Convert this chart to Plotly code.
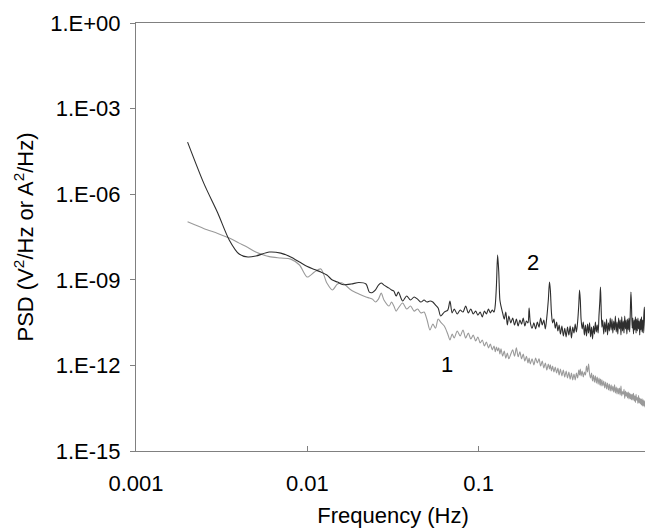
import math
import plotly.graph_objects as go

# Frequency grid (Hz), shared by both spectra
freq = [
    0.002, 0.0025, 0.003, 0.0035, 0.004, 0.0045, 0.005, 0.006, 0.007, 0.008,
    0.009, 0.010, 0.011, 0.012, 0.013, 0.014, 0.015, 0.016, 0.018, 0.020,
    0.022, 0.023, 0.024, 0.025, 0.026, 0.027, 0.028, 0.030, 0.031, 0.032,
    0.033, 0.034, 0.036, 0.038, 0.040, 0.042, 0.044, 0.046, 0.048, 0.050,
    0.052, 0.054, 0.056, 0.058, 0.060, 0.063, 0.066, 0.068, 0.070, 0.072,
    0.075, 0.078, 0.081, 0.084, 0.087, 0.090, 0.093, 0.096, 0.099, 0.102,
    0.105, 0.108, 0.111, 0.114, 0.117, 0.120, 0.123, 0.125, 0.127, 0.129,
    0.131, 0.133, 0.135, 0.138, 0.141, 0.144, 0.147, 0.150, 0.154, 0.158,
    0.162, 0.166, 0.170, 0.174, 0.178, 0.182, 0.186, 0.190, 0.194, 0.197,
    0.200, 0.205, 0.210, 0.215, 0.220, 0.225, 0.230, 0.235, 0.240, 0.245,
    0.250, 0.255, 0.259, 0.262, 0.266, 0.270, 0.275, 0.280, 0.285, 0.290,
    0.295, 0.300, 0.306, 0.312, 0.318, 0.324, 0.330, 0.336, 0.342, 0.348,
    0.354, 0.360, 0.366, 0.372, 0.378, 0.384, 0.388, 0.392, 0.396, 0.402,
    0.408, 0.414, 0.420, 0.426, 0.432, 0.438, 0.444, 0.450, 0.456, 0.462,
    0.468, 0.474, 0.480, 0.486, 0.492, 0.498, 0.504, 0.510, 0.514, 0.518,
    0.524, 0.530, 0.537, 0.544, 0.551, 0.558, 0.565, 0.572, 0.579, 0.586,
    0.593, 0.600, 0.607, 0.614, 0.621, 0.628, 0.635, 0.642, 0.649, 0.656,
    0.663, 0.670, 0.677, 0.684, 0.691, 0.698, 0.705, 0.712, 0.719, 0.726,
    0.733, 0.740, 0.747, 0.754, 0.761, 0.768, 0.774, 0.780, 0.787, 0.794,
    0.801, 0.808, 0.815, 0.822, 0.829, 0.836, 0.843, 0.850, 0.857, 0.864,
    0.871, 0.878, 0.885, 0.892, 0.899, 0.906, 0.913, 0.920, 0.927, 0.934,
    0.941, 0.948, 0.955, 0.962, 0.969, 0.976, 0.983, 0.990, 0.997,
]

# Curve 2 (dark)
psd_2 = [
    6.7e-5, 2.25e-6, 2.2e-7, 2.5e-8, 8.0e-9, 6.3e-9, 6.8e-9, 9.4e-9, 8.6e-9, 6.3e-9,
    4.2e-9, 2.9e-9, 2.3e-9, 1.87e-9, 1.47e-9, 9.8e-10, 8.3e-10, 6.8e-10, 7.1e-10, 8.0e-10,
    7.1e-10, 3.7e-10, 3.6e-10, 4.4e-10, 6.5e-10, 7.7e-10, 6.5e-10, 5.1e-10, 4.4e-10, 4.0e-10,
    2.7e-10, 3.7e-10, 1.8e-10, 2.7e-10, 1.95e-10, 2.5e-10, 2.1e-10, 1.66e-10, 1.95e-10, 1.66e-10,
    1.8e-10, 1.66e-10, 1.3e-10, 1.03e-10, 5.4e-11, 7.4e-11, 8.7e-11, 1.8e-10, 6.9e-11, 9.5e-11,
    6.3e-11, 8.7e-11, 7.4e-11, 1.2e-10, 6.9e-11, 9.5e-11, 6.3e-11, 8.0e-11, 5.8e-11, 7.4e-11,
    5.0e-11, 8.0e-11, 6.3e-11, 9.5e-11, 6.9e-11, 8.7e-11, 7.4e-11, 1.3e-10, 6.5e-10, 7.3e-9,
    1.87e-9, 1.95e-10, 1.2e-10, 6.9e-11, 4.2e-11, 7.4e-11, 2.6e-11, 5.4e-11, 3.1e-11, 4.6e-11,
    2.6e-11, 4.2e-11, 2.4e-11, 3.9e-11, 2.8e-11, 4.6e-11, 2.4e-11, 3.6e-11, 3.1e-11, 1.03e-10,
    3.3e-11, 2.0e-11, 3.1e-11, 1.9e-11, 3.3e-11, 2.2e-11, 4.6e-11, 2.6e-11, 3.9e-11, 1.9e-11,
    5.0e-11, 1.95e-10, 8.3e-10, 4.4e-10, 6.9e-11, 3.1e-11, 4.2e-11, 2.0e-11, 3.3e-11, 1.6e-11,
    2.6e-11, 1.26e-11, 2.4e-11, 1.07e-11, 2.0e-11, 9.9e-12, 2.2e-11, 1.16e-11, 2.4e-11, 9.1e-12,
    2.2e-11, 1.36e-11, 2.8e-11, 1.48e-11, 3.3e-11, 1.3e-10, 4.4e-10, 1.95e-10, 4.2e-11, 1.9e-11,
    3.3e-11, 1.16e-11, 2.6e-11, 1.07e-11, 2.8e-11, 1.36e-11, 3.1e-11, 9.9e-12, 2.2e-11, 8.4e-12,
    2.4e-11, 1.26e-11, 3.3e-11, 1.48e-11, 2.6e-11, 1.36e-11, 5.8e-11, 1.95e-10, 5.6e-10, 1.3e-10,
    2.2e-11, 3.9e-11, 1.26e-11, 3.3e-11, 1.48e-11, 4.2e-11, 1.16e-11, 3.1e-11, 1.6e-11, 4.6e-11,
    1.74e-11, 4.2e-11, 1.36e-11, 3.6e-11, 1.74e-11, 5.4e-11, 1.48e-11, 3.3e-11, 1.26e-11, 4.6e-11,
    1.9e-11, 3.9e-11, 1.16e-11, 5.0e-11, 1.6e-11, 3.6e-11, 1.36e-11, 5.4e-11, 1.9e-11, 3.9e-11,
    1.26e-11, 4.2e-11, 1.74e-11, 4.6e-11, 1.48e-11, 8.7e-11, 3.7e-10, 1.2e-10, 2.0e-11, 4.6e-11,
    1.26e-11, 3.9e-11, 1.74e-11, 5.0e-11, 1.36e-11, 4.2e-11, 1.6e-11, 4.6e-11, 1.9e-11, 3.6e-11,
    1.16e-11, 4.2e-11, 1.74e-11, 5.0e-11, 1.48e-11, 3.9e-11, 1.36e-11, 5.4e-11, 1.1e-10, 3.1e-11,
    1.26e-11, 4.2e-11, 1.6e-11, 3.6e-11, 1.16e-11, 3.3e-11, 1.48e-11, 3.1e-11, 2.0e-11,
]

# Curve 1 (light grey)
psd_1 = [
    1.08e-7, 6.2e-8, 4.2e-8, 2.9e-8, 1.93e-8, 1.35e-8, 9.4e-9, 6.5e-9, 5.8e-9, 5.3e-9,
    3.3e-9, 1.25e-9, 1.87e-9, 2.4e-9, 7.7e-10, 4.4e-10, 7.1e-10, 7.7e-10, 4.4e-10, 3.2e-10,
    2.5e-10, 2.3e-10, 2.1e-10, 1.66e-10, 2.1e-10, 3.4e-10, 1.95e-10, 1.2e-10, 1.66e-10, 1.2e-10,
    8.0e-11, 1.03e-10, 1.53e-10, 9.5e-11, 1.2e-10, 8.0e-11, 9.5e-11, 6.9e-11, 7.4e-11, 3.9e-11,
    1.74e-11, 2.8e-11, 2.0e-11, 4.2e-11, 3.3e-11, 2.4e-11, 1.26e-11, 7.8e-12, 1.26e-11, 9.1e-12,
    1.6e-11, 1.07e-11, 1.74e-11, 9.1e-12, 1.36e-11, 8.4e-12, 1.16e-11, 7.2e-12, 9.9e-12, 6.1e-12,
    7.8e-12, 4.8e-12, 6.6e-12, 4.1e-12, 5.6e-12, 3.5e-12, 4.8e-12, 3.0e-12, 4.4e-12, 3.2e-12,
    4.1e-12, 2.5e-12, 3.8e-12, 2.1e-12, 3.2e-12, 1.8e-12, 2.7e-12, 1.7e-12, 2.5e-12, 3.5e-12,
    2.1e-12, 4.1e-12, 2.0e-12, 3.0e-12, 1.7e-12, 2.5e-12, 1.43e-12, 2.1e-12, 1.22e-12, 1.8e-12,
    1.12e-12, 1.7e-12, 1.04e-12, 1.8e-12, 1.22e-12, 1.7e-12, 9.5e-13, 1.43e-12, 8.1e-13, 1.22e-12,
    6.9e-13, 1.12e-12, 7.5e-13, 1.04e-12, 6.4e-13, 9.5e-13, 5.9e-13, 8.8e-13, 5.4e-13, 8.1e-13,
    4.6e-13, 7.5e-13, 4.3e-13, 6.9e-13, 3.9e-13, 6.4e-13, 3.6e-13, 5.9e-13, 3.3e-13, 5.4e-13,
    3.1e-13, 5.0e-13, 3.1e-13, 5.4e-13, 3.6e-13, 6.9e-13, 4.6e-13, 7.5e-13, 4.3e-13, 6.4e-13,
    3.9e-13, 5.9e-13, 4.6e-13, 9.5e-13, 5.9e-13, 1.12e-12, 5.0e-13, 3.6e-13, 5.4e-13, 2.85e-13,
    4.6e-13, 2.6e-13, 4.3e-13, 2.4e-13, 3.9e-13, 2.2e-13, 3.6e-13, 2.07e-13, 3.3e-13, 1.9e-13,
    3.1e-13, 1.9e-13, 2.85e-13, 1.62e-13, 2.6e-13, 1.5e-13, 2.4e-13, 1.38e-13, 2.2e-13, 1.27e-13,
    2.07e-13, 1.27e-13, 1.9e-13, 1.17e-13, 2.07e-13, 1.08e-13, 1.76e-13, 1.0e-13, 1.62e-13, 1.0e-13,
    1.62e-13, 9.2e-14, 1.9e-13, 8.5e-14, 1.2e-13, 9.8e-14, 1.45e-13, 7.0e-14, 1.27e-13, 8.2e-14,
    1.17e-13, 7.2e-14, 1.17e-13, 6.7e-14, 1.08e-13, 6.7e-14, 1.0e-13, 6.2e-14, 1.0e-13, 6.2e-14,
    1.05e-13, 5.7e-14, 8.6e-14, 5.0e-14, 9.7e-14, 6.0e-14, 7.4e-14, 4.6e-14, 8.8e-14, 4.9e-14,
    7.2e-14, 4.5e-14, 6.7e-14, 4.1e-14, 6.7e-14, 3.8e-14, 6.2e-14, 3.8e-14, 5.7e-14, 3.5e-14,
    5.2e-14, 3.2e-14, 4.8e-14, 3.0e-14, 4.5e-14, 2.75e-14, 4.1e-14, 2.75e-14, 3.5e-14,
]

# Axis ticks
x_tickvals = [0.001, 0.01, 0.1, 1]
x_ticktext = ["0.001", "0.01", "0.1", "1"]
y_tickvals = [1e0, 1e-3, 1e-6, 1e-9, 1e-12, 1e-15]
y_ticktext = ["1.E+00", "1.E-03", "1.E-06", "1.E-09", "1.E-12", "1.E-15"]

# Curve labels
label_text = ["1", "2"]
label_freq = [0.0655, 0.208]
label_psd = [1.04e-12, 3.9e-9]

FONT = "Liberation Sans, Arial, sans-serif"
FS = 22

fig = go.Figure()
fig.add_trace(go.Scatter(x=freq, y=psd_1, mode="lines", name="1",
                         line=dict(color="#9a9a9a", width=1.1,
                                   shape="spline", smoothing=0.8)))
fig.add_trace(go.Scatter(x=freq, y=psd_2, mode="lines", name="2",
                         line=dict(color="#2e2e2e", width=1.1,
                                   shape="spline", smoothing=0.8)))

for t, fx, py in zip(label_text, label_freq, label_psd):
    fig.add_annotation(x=math.log10(fx), y=math.log10(py), text=t,
                       showarrow=False, font=dict(family=FONT, size=FS, color="black"))

# The page body adds an 8 px offset; the figure is sized so the plot frame
# lands where the reference has it.
fig.update_layout(
    width=645, height=520,
    margin=dict(l=128, r=3, t=15, b=77, autoexpand=False),
    paper_bgcolor="white", plot_bgcolor="white",
    showlegend=False,
    font=dict(family=FONT, size=FS, color="black"),
)
fig.update_xaxes(
    type="log", range=[-3, 0], automargin=False,
    tickvals=x_tickvals, ticktext=x_ticktext,
    ticks="inside", ticklen=5, tickcolor="#808080", tickwidth=1,
    showline=True, linecolor="#808080", linewidth=1, mirror=True,
    showgrid=False, zeroline=False,
    ticklabelstandoff=13,
    title=dict(text="Frequency (Hz)", font=dict(family=FONT, size=FS), standoff=17),
)
fig.update_yaxes(
    type="log", range=[-15, 0], automargin=False,
    tickvals=y_tickvals, ticktext=y_ticktext,
    ticks="outside", ticklen=5, tickcolor="#808080", tickwidth=1,
    showline=True, linecolor="#808080", linewidth=1, mirror=True,
    showgrid=False, zeroline=False,
    ticklabelstandoff=5,
    title=dict(text="PSD (V<sup>2</sup>/Hz or A<sup>2</sup>/Hz)",
               font=dict(family=FONT, size=FS), standoff=10),
)

fig.write_html("out.html")
